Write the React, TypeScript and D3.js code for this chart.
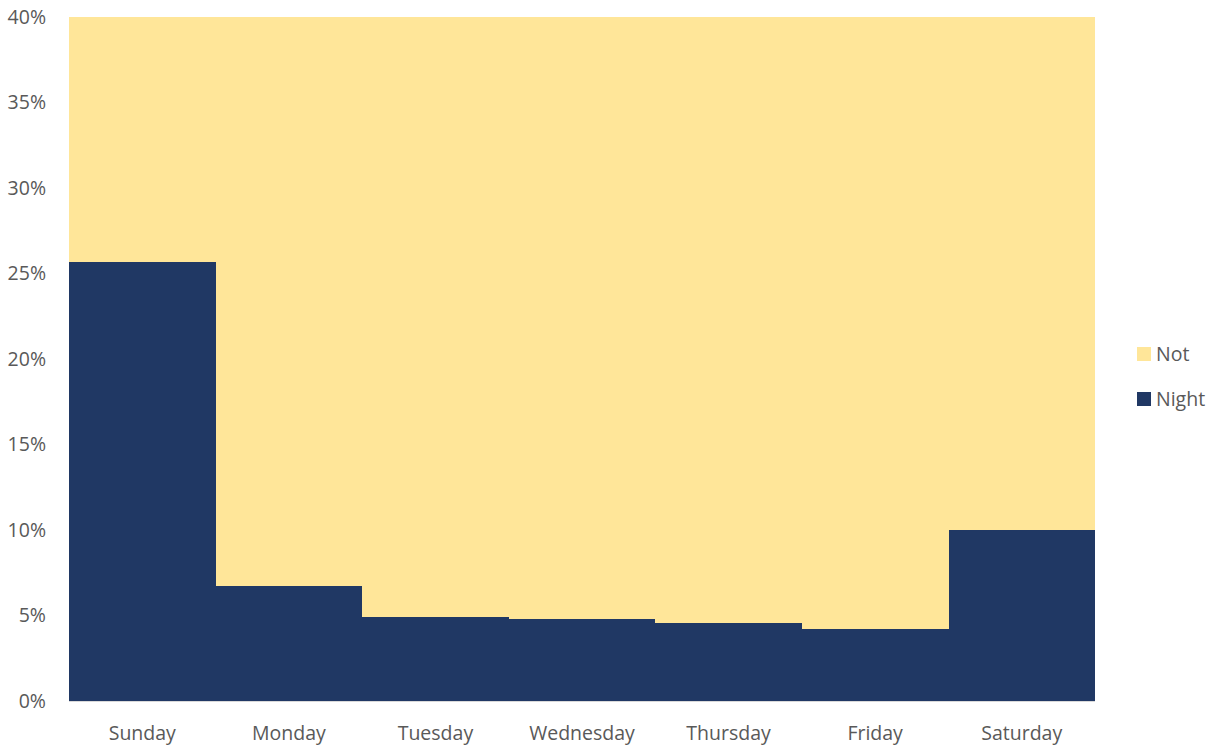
import React, { useEffect, useRef } from 'react';
import * as d3 from 'd3';

const days = ['Sunday', 'Monday', 'Tuesday', 'Wednesday', 'Thursday', 'Friday', 'Saturday'];
const night = [25.7, 6.73, 4.89, 4.78, 4.56, 4.19, 10.0];
const notNight = night.map((v) => 100 - v);
const yTicks = [0, 5, 10, 15, 20, 25, 30, 35, 40];

const W = 1225;
const H = 751;
const FONT = "'Open Sans', sans-serif";

export default function App() {
  const ref = useRef<SVGSVGElement>(null);

  useEffect(() => {
    const svg = d3.select(ref.current);
    svg.selectAll('*').remove();

    const m = { left: 69, right: 130, top: 17, bottom: 50 };
    const x = d3.scaleBand().domain(days).range([m.left, W - m.right]).padding(0);
    const y = d3.scaleLinear().domain([0, 40]).range([H - m.bottom, m.top]);

    const rows = days.map((d, i) => ({ day: d, Night: night[i], Not: notNight[i] }));
    const stack = d3.stack<any>().keys(['Night', 'Not'])(rows);
    const colors: Record<string, string> = { Night: '#203864', Not: '#FFE699' };

    svg.append('clipPath').attr('id', 'plot')
      .append('rect')
      .attr('x', m.left).attr('y', m.top)
      .attr('width', W - m.right - m.left).attr('height', H - m.bottom - m.top);

    const g = svg.append('g').attr('clip-path', 'url(#plot)');
    stack.forEach((s) => {
      g.append('g')
        .selectAll('rect')
        .data(s)
        .join('rect')
        .attr('x', (d: any) => x(d.data.day)!)
        .attr('width', x.bandwidth() + 0.6)
        .attr('y', (d) => y(d[1]))
        .attr('height', (d) => y(d[0]) - y(d[1]))
        .attr('fill', colors[s.key])
        .attr('shape-rendering', 'crispEdges');
    });

    // bottom axis line
    svg.append('line')
      .attr('x1', m.left).attr('x2', W - m.right)
      .attr('y1', y(0) + 0.5).attr('y2', y(0) + 0.5)
      .attr('stroke', '#d9d9d9').attr('stroke-width', 1);

    svg.append('g')
      .selectAll('text')
      .data(yTicks)
      .join('text')
      .attr('x', 46)
      .attr('y', (d) => y(d))
      .attr('dy', '0.35em')
      .attr('text-anchor', 'end')
      .attr('font-family', FONT)
      .attr('font-size', 19.5)
      .attr('fill', '#595959')
      .text((d) => d + '%');

    svg.append('g')
      .selectAll('text')
      .data(days)
      .join('text')
      .attr('x', (d) => x(d)! + x.bandwidth() / 2)
      .attr('y', 733)
      .attr('dy', '0.35em')
      .attr('text-anchor', 'middle')
      .attr('font-family', FONT)
      .attr('font-size', 19.5)
      .attr('fill', '#595959')
      .text((d) => d);

    const legend = [
      { key: 'Not', y: 354 },
      { key: 'Night', y: 399 },
    ];
    const lg = svg.append('g');
    legend.forEach((l) => {
      lg.append('rect')
        .attr('x', 1137).attr('y', l.y - 7)
        .attr('width', 14).attr('height', 14)
        .attr('fill', colors[l.key]);
      lg.append('text')
        .attr('x', 1156).attr('y', l.y)
        .attr('dy', '0.35em')
        .attr('font-family', FONT)
        .attr('font-size', 19.5)
        .attr('fill', '#595959')
        .text(l.key);
    });
  }, []);

  return (
    <svg
      ref={ref}
      width={W}
      height={H}
      style={{ position: 'absolute', left: 0, top: 0, background: '#fff' }}
    />
  );
}
